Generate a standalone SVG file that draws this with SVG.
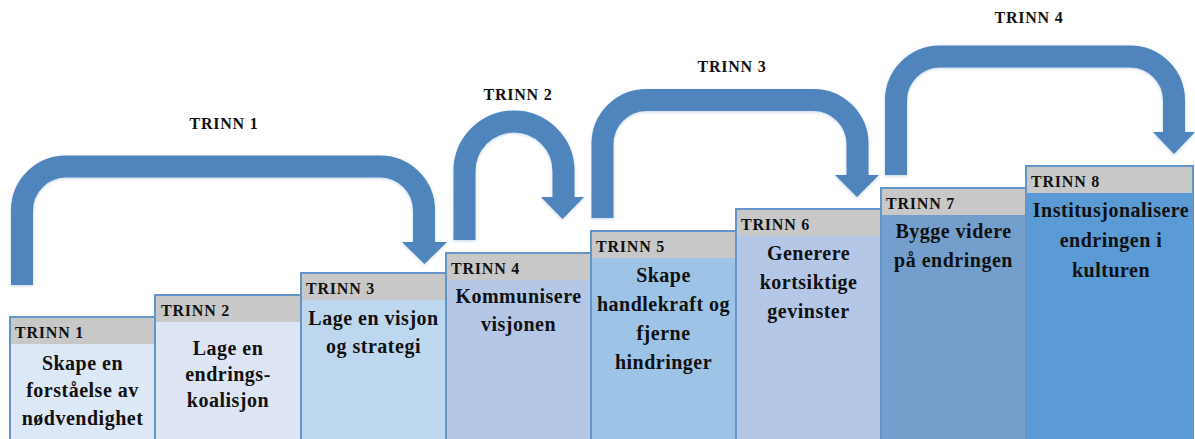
<svg xmlns="http://www.w3.org/2000/svg" width="1195" height="439" viewBox="0 0 1195 439">
<style>
.box{stroke:#6495c8;stroke-width:2}
.hdr{fill:#c8c8c8}
.ht{font-family:"Liberation Serif","Times New Roman",serif;font-weight:bold;font-size:16px;letter-spacing:0.8px;fill:#111}
.bt{font-family:"Liberation Serif","Times New Roman",serif;font-weight:bold;font-size:20px;letter-spacing:0.5px;fill:#111;text-anchor:middle}
.lbl{font-family:"Liberation Serif","Times New Roman",serif;font-weight:bold;font-size:16px;letter-spacing:0.8px;fill:#111;text-anchor:middle}
.arr{fill:none;stroke:#4f84bd;stroke-width:22}
.head{fill:#4f84bd}
</style>
<defs>
<filter id="sh" x="-10%" y="-10%" width="120%" height="120%">
<feDropShadow dx="0" dy="1" stdDeviation="1.5" flood-color="#4f84bd" flood-opacity="0.35"/>
</filter>
</defs>
<rect width="1195" height="439" fill="#ffffff"/>

<g id="connectors" filter="url(#sh)">
<path class="arr" d="M22,285 V210.5 A44,44 0 0 1 66,166.5 H380 A44,44 0 0 1 424,210.5 V243"/>
<polygon class="head" points="402,242 447,242 424.5,264"/>
<path class="arr" d="M464.5,240 V171 A49.5,49.5 0 0 1 563.5,171 V198"/>
<polygon class="head" points="541,197 584,197 562.5,219"/>
<path class="arr" d="M602.5,218 V144 A44,44 0 0 1 646.5,100 H813.5 A44,44 0 0 1 857.5,144 V176"/>
<polygon class="head" points="835,175 879,175 857,197"/>
<path class="arr" d="M896,175 V100.5 A44,44 0 0 1 940,56.5 H1130 A44,44 0 0 1 1174,100.5 V133"/>
<polygon class="head" points="1153,132 1195,132 1174,154"/>
</g>
<g id="arrow-labels">
<text class="lbl" x="224" y="129">TRINN 1</text>
<text class="lbl" x="518" y="100">TRINN 2</text>
<text class="lbl" x="732" y="72">TRINN 3</text>
<text class="lbl" x="1029" y="23">TRINN 4</text>
</g>

<g id="step1">
<rect class="box" x="10" y="317" width="145" height="130" fill="#dce8f5"/>
<rect class="hdr" x="11" y="318" width="143" height="26"/>
<text class="ht" x="15" y="338">TRINN 1</text>
<text class="bt" x="82.5" y="370">Skape en</text>
<text class="bt" x="82.5" y="397">forståelse av</text>
<text class="bt" x="82.5" y="425">nødvendighet</text>
</g>
<g id="step2">
<rect class="box" x="155" y="295" width="146" height="152" fill="#dde5f4"/>
<rect class="hdr" x="156" y="296" width="144" height="26"/>
<text class="ht" x="161" y="316">TRINN 2</text>
<text class="bt" x="228" y="355">Lage en</text>
<text class="bt" x="228" y="381">endrings-</text>
<text class="bt" x="228" y="407">koalisjon</text>
</g>
<g id="step3">
<rect class="box" x="301" y="273" width="145" height="174" fill="#bdd7ee"/>
<rect class="hdr" x="302" y="274" width="143" height="26"/>
<text class="ht" x="306" y="294">TRINN 3</text>
<text class="bt" x="373.5" y="325">Lage en visjon</text>
<text class="bt" x="373.5" y="353">og strategi</text>
</g>
<g id="step4">
<rect class="box" x="446" y="253" width="145" height="194" fill="#b4c7e7"/>
<rect class="hdr" x="447" y="254" width="143" height="26"/>
<text class="ht" x="451" y="274">TRINN 4</text>
<text class="bt" x="518.5" y="303">Kommunisere</text>
<text class="bt" x="518.5" y="331">visjonen</text>
</g>
<g id="step5">
<rect class="box" x="591" y="231" width="145" height="216" fill="#9dc3e6"/>
<rect class="hdr" x="592" y="232" width="143" height="26"/>
<text class="ht" x="596" y="252">TRINN 5</text>
<text class="bt" x="663.5" y="282">Skape</text>
<text class="bt" x="663.5" y="311">handlekraft og</text>
<text class="bt" x="663.5" y="340">fjerne</text>
<text class="bt" x="663.5" y="369">hindringer</text>
</g>
<g id="step6">
<rect class="box" x="736" y="209" width="145" height="238" fill="#b4c7e7"/>
<rect class="hdr" x="737" y="210" width="143" height="26"/>
<text class="ht" x="741" y="230">TRINN 6</text>
<text class="bt" x="808.5" y="260">Generere</text>
<text class="bt" x="808.5" y="289">kortsiktige</text>
<text class="bt" x="808.5" y="318">gevinster</text>
</g>
<g id="step7">
<rect class="box" x="881" y="188" width="145" height="259" fill="#749fcd"/>
<rect class="hdr" x="882" y="189" width="143" height="26"/>
<text class="ht" x="886" y="209">TRINN 7</text>
<text class="bt" x="953.5" y="238">Bygge videre</text>
<text class="bt" x="953.5" y="267">på endringen</text>
</g>
<g id="step8">
<rect class="box" x="1026" y="166" width="167" height="281" fill="#5b9bd5"/>
<rect class="hdr" x="1027" y="167" width="165" height="26"/>
<text class="ht" x="1031" y="187">TRINN 8</text>
<text class="bt" x="1111" y="217">Institusjonalisere</text>
<text class="bt" x="1111" y="247">endringen i</text>
<text class="bt" x="1111" y="277">kulturen</text>
</g>
</svg>
